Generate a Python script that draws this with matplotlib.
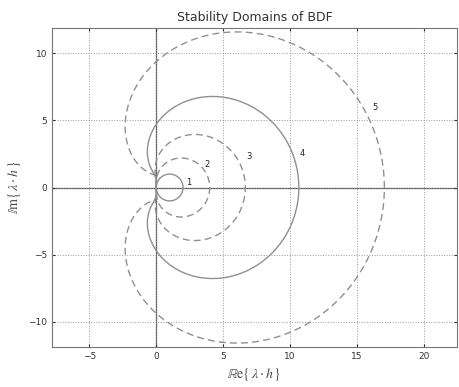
import numpy as np
import matplotlib.pyplot as plt

plt.rcParams['mathtext.fontset'] = 'stix'

# BDF orders and the label positions
orders = [1, 2, 3, 4, 5]
styles = ['-', '--', '--', '-', '--']
label_x = [2.4, 3.8, 6.9, 10.9, 16.4]
label_y = [0.4, 1.7, 2.3, 2.5, 6.0]
xticks = [-5, 0, 5, 10, 15, 20]
yticks = [-10, -5, 0, 5, 10]

###boundary locus: h*lambda = sum_j (1/j)(1 - 1/zeta)^j on the unit circle
theta = np.linspace(0, 2*np.pi, 800)
zeta = np.exp(1j*theta)

fig = plt.figure(figsize=(4.59, 3.87), dpi=100)
ax = fig.add_axes([52/459, 1-347/387, 405/459, 319/387])

ax.axhline(0, color='#555555', lw=0.9, zorder=1)
ax.axvline(0, color='#555555', lw=0.9, zorder=1)

for k, ls, lx, ly in zip(orders, styles, label_x, label_y):
    z = sum((1 - 1/zeta)**j / j for j in range(1, k+1))
    ax.plot(z.real, z.imag, ls, color='#909090', lw=1.0, dashes=(5, 3) if ls == '--' else (None, None))
    ax.text(lx, ly, str(k), fontsize=6, color='#222222', ha='center', va='center')

ax.set_xlim(-7.8, 22.5)
ax.set_ylim(-11.9, 11.9)
ax.set_xticks(xticks)
ax.set_yticks(yticks)
ax.set_xticklabels([str(t).replace('-', '\u2212') for t in xticks])
ax.set_yticklabels([str(t).replace('-', '\u2212') for t in yticks])
ax.tick_params(labelsize=6.5, colors='#333333', length=2, direction='in', top=True, right=True)
ax.grid(True, linestyle=':', color='#999999', lw=0.7)
for s in ax.spines.values():
    s.set_color('#777777')
    s.set_linewidth(0.8)

ax.set_title('Stability Domains of BDF', fontsize=9, color='#333333', pad=5)
ax.set_xlabel(r'$\mathbb{R}\mathrm{e}\{\,\lambda\cdot h\,\}$', fontsize=10, color='#444444')
ax.set_ylabel(r'$\mathbb{I}\mathrm{m}\{\,\lambda\cdot h\,\}$', fontsize=10, color='#444444')

fig.savefig('out.png', dpi=100)
